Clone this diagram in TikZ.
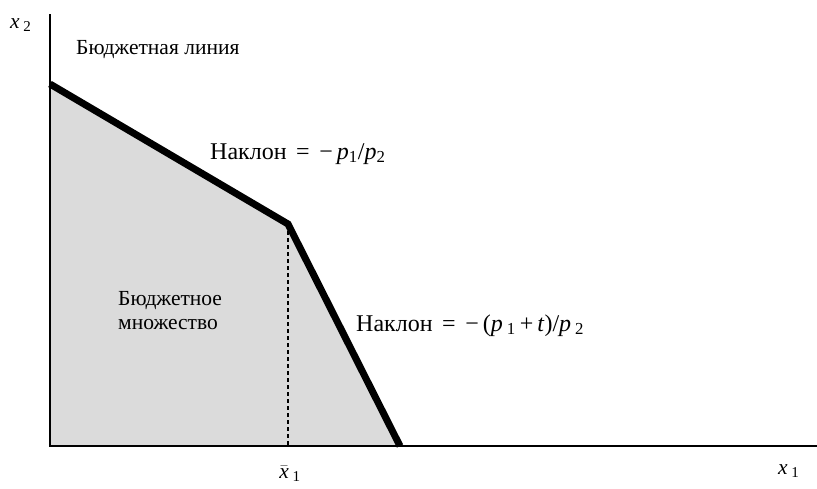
\documentclass[tikz,border=0pt]{standalone}
\usepackage{fontspec}
\setmainfont{Liberation Serif}
\newcommand{\sub}[1]{\,\textsubscript{#1}}
\newcommand{\eqsp}{\hspace{0.4em}=\hspace{0.4em}}
\begin{document}
\begin{tikzpicture}[x=1pt,y=-1pt,
  lbl/.style={inner sep=0pt,font=\fontsize{21.5}{26}\selectfont},
  slope/.style={inner sep=0pt,font=\fontsize{24}{28}\selectfont},
  axis/.style={line width=2pt},
  budget/.style={line width=7pt,line join=miter},
  guide/.style={line width=1.2pt,dash pattern=on 4pt off 3pt}]
\useasboundingbox (0,0) rectangle (817,488);
\coordinate (O) at (50,446);
\coordinate (ytop) at (50,14);
\coordinate (xend) at (817,446);
\coordinate (A) at (50,84);
\coordinate (K) at (288,224);
\coordinate (B) at (400,446);
\coordinate (Kb) at (288,446);
\fill[gray!28] (O) -- (A) -- (K) -- (B) -- cycle;
\draw[axis] (ytop) -- (O) -- (xend);
\draw[guide] (K) -- (Kb);
\draw[budget] (A) -- (K) -- (B);
\node[lbl,anchor=base west] (x2) at (10,28) {\textit{x}\sub{2}};
\node[lbl,anchor=base west] (bl) at (76,54) {Бюджетная линия};
\node[slope,anchor=base west] (s1) at (210,159) {Наклон\eqsp−\,\textit{p}\textsubscript{1}/\textit{p}\textsubscript{2}};
\node[lbl,anchor=base west,align=left] (bs) at (118,329) {Бюджетное\\[-2pt]множество};
\node[slope,anchor=base west] (s2) at (356,331) {Наклон\eqsp−\,(\textit{p}\,\textsubscript{1}\,+\,\textit{t})/\textit{p}\,\textsubscript{2}};
\node[lbl,anchor=base] (xb) at (290,478) {$\bar{\mbox{\textit{x}}}$\sub{1}};
\node[lbl,anchor=base west] (x1) at (778,474) {\textit{x}\sub{1}};
\end{tikzpicture}
\end{document}
